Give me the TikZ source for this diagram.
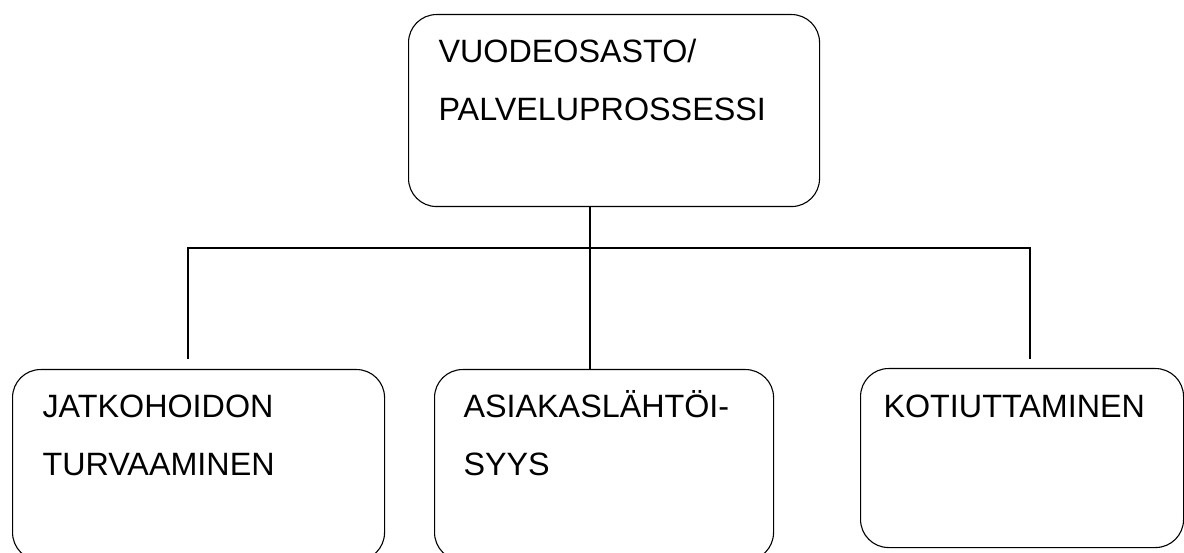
\documentclass[tikz,border=0pt]{standalone}
\usepackage{fontspec}
\setmainfont{Liberation Sans}

\begin{document}
\begin{tikzpicture}[x=1pt, y=-1pt,
        line width=1.1pt,
        unitbox/.style={draw, rounded corners=28pt,
            anchor=north west, align=left,
            inner xsep=30pt, inner ysep=0pt,
            font=\fontsize{32.3}{58}\selectfont}]

        \useasboundingbox (0,0) rectangle (1184,553);

        % Top unit
        \node (ward) [unitbox,
            text width=351pt, text height=48pt, text depth=144pt]
            at (408,14) {VUODEOSASTO/\\PALVELUPROSSESSI};

        % Sub units
        \node (jatko) [unitbox,
            text width=312pt, text height=48pt, text depth=143pt]
            at (12,369) {JATKOHOIDON\\TURVAAMINEN};

        \node (asiakas) [unitbox,
            inner xsep=29pt,
            text width=281pt, text height=48pt, text depth=143pt]
            at (434,369) {ASIAKASLÄHTÖI-\\SYYS};

        \node (koti) [unitbox,
            inner xsep=23pt,
            text width=277pt, text height=49pt, text depth=130pt]
            at (860,368) {KOTIUTTAMINEN};

        % Branch points
        \coordinate (hub) at (590,248);
        \coordinate (lbranch) at (188,248);
        \coordinate (rbranch) at (1030,248);
        \coordinate (lend) at (188,359);
        \coordinate (rend) at (1030,359);

        % Lines
        \draw (hub |- ward.south) -- (hub |- asiakas.north);
        \draw (lend) -- (lbranch) -- (rbranch) -- (rend);
\end{tikzpicture}
\end{document}
